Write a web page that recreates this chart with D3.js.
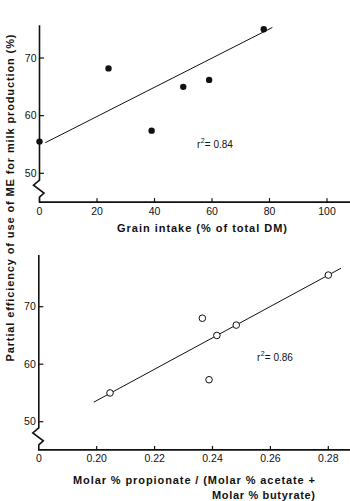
<!DOCTYPE html>
<html><head><meta charset="utf-8">
<script src="https://cdn.jsdelivr.net/npm/d3@7"></script>
<style>
html,body{margin:0;padding:0;background:#fff;}
svg{display:block;font-family:"Liberation Sans",Arial,sans-serif;}
</style></head>
<body>
<svg id="c" width="350" height="501"></svg>
<script>
// ---- data ----
const grain = [0, 24, 39, 50, 59, 78];
const effTop = [55.5, 68.2, 57.4, 65.0, 66.2, 75.0];
const ratio = [0.2046, 0.2365, 0.2388, 0.2415, 0.2482, 0.2800];
const effBot = [55.0, 68.0, 57.3, 65.0, 66.8, 75.5];
const fitTopX = [2, 81];
const fitTopY = [55.3, 75.3];
const fitBotX = [0.199, 0.2844];
const fitBotY = [53.4, 76.7];
const topXTicks = [0, 20, 40, 60, 80, 100];
const botXTicks = [0.20, 0.22, 0.24, 0.26, 0.28];
const yTicks = [50, 60, 70];
const r2Top = "0.84";
const r2Bot = "0.86";

const svg = d3.select("#c");
const ink = "#111";

// ---- scales ----
const xT = d3.scaleLinear().domain([0, 100]).range([39.5, 327]);
const yT = d3.scaleLinear().domain([50, 70]).range([173.3, 58]);
const xB = d3.scaleLinear().domain([0.20, 0.28]).range([96.7, 328.3]);
const yB = d3.scaleLinear().domain([50, 70]).range([421.7, 306.7]);

function panel(x, y, x0, xEnd, yBottom, yTop, xTicks, xFmt, originLabel) {
  const g = svg.append("g");
  const ax = x(x0);
  const yb = y(yBottom), yt = y(yTop);
  const path = d3.path();
  path.moveTo(ax, yt);
  path.lineTo(ax, yb - 22);
  path.lineTo(ax - 6, yb - 17);
  path.lineTo(ax + 4.5, yb - 9);
  path.lineTo(ax, yb - 5);
  path.lineTo(ax, yb);
  path.lineTo(x(xEnd), yb);
  g.append("path").attr("d", path.toString()).attr("fill", "none")
    .attr("stroke", ink).attr("stroke-width", 1.6);
  yTicks.forEach(v => {
    g.append("line").attr("x1", ax).attr("x2", ax + 4.5)
      .attr("y1", y(v)).attr("y2", y(v)).attr("stroke", ink).attr("stroke-width", 1.2);
    g.append("text").attr("x", ax - 3).attr("y", y(v) + 3.6)
      .attr("text-anchor", "end").attr("font-size", 10.5).attr("fill", ink)
      .text(v);
  });
  xTicks.forEach(v => {
    g.append("line").attr("x1", x(v)).attr("x2", x(v))
      .attr("y1", yb).attr("y2", yb - 4).attr("stroke", ink).attr("stroke-width", 1.2);
    g.append("text").attr("x", x(v)).attr("y", yb + 12.5)
      .attr("text-anchor", "middle").attr("font-size", 10.5).attr("fill", ink)
      .text(xFmt(v));
  });
  if (originLabel) {
    g.append("text").attr("x", ax).attr("y", yb + 12.5)
      .attr("text-anchor", "middle").attr("font-size", 10.5).attr("fill", ink)
      .text(originLabel);
  }
  return g;
}

function r2Label(g, x, y, val) {
  const t = g.append("text").attr("x", x).attr("y", y).attr("font-size", 10).attr("fill", ink);
  t.append("tspan").text("r");
  t.append("tspan").attr("dy", -5).attr("dx", 0.3).attr("font-size", 7).text("2");
  t.append("tspan").attr("dy", 5).attr("dx", 0.3).text("= " + val);
}

// ---- top panel ----
const gT = panel(xT, yT, 0, 108, 45.0, 75.7, topXTicks, d => d3.format("d")(d), null);
gT.append("line")
  .attr("x1", xT(fitTopX[0])).attr("y1", yT(fitTopY[0]))
  .attr("x2", xT(fitTopX[1])).attr("y2", yT(fitTopY[1]))
  .attr("stroke", ink).attr("stroke-width", 1);
gT.selectAll("circle.p").data(grain.map((g, i) => [g, effTop[i]])).join("circle")
  .attr("cx", d => xT(d[0])).attr("cy", d => yT(d[1])).attr("r", 3.2).attr("fill", ink);
r2Label(gT, 197, 148, r2Top);

gT.append("text").attr("x", 202).attr("y", 232).attr("text-anchor", "middle")
  .attr("font-size", 11).attr("font-weight", "bold").attr("fill", ink)
  .attr("textLength", 170).attr("lengthAdjust", "spacing")
  .text("Grain  intake  (% of total DM)");

// ---- bottom panel ----
const gB = panel(xB, yB, 0.18, 0.288, 45.1, 79, botXTicks, d => d3.format(".2f")(d), "0");
gB.append("line")
  .attr("x1", xB(fitBotX[0])).attr("y1", yB(fitBotY[0]))
  .attr("x2", xB(fitBotX[1])).attr("y2", yB(fitBotY[1]))
  .attr("stroke", ink).attr("stroke-width", 1);
gB.selectAll("circle.p").data(ratio.map((r, i) => [r, effBot[i]])).join("circle")
  .attr("cx", d => xB(d[0])).attr("cy", d => yB(d[1])).attr("r", 3.3)
  .attr("fill", "#fff").attr("stroke", ink).attr("stroke-width", 1);
r2Label(gB, 257, 361, r2Bot);

gB.append("text").attr("x", 315).attr("y", 484).attr("text-anchor", "end")
  .attr("font-size", 11).attr("font-weight", "bold").attr("fill", ink)
  .attr("textLength", 242).attr("lengthAdjust", "spacing")
  .text("Molar %   propionate / (Molar % acetate +");
gB.append("text").attr("x", 315).attr("y", 499).attr("text-anchor", "end")
  .attr("font-size", 11).attr("font-weight", "bold").attr("fill", ink)
  .attr("textLength", 103).attr("lengthAdjust", "spacing")
  .text("Molar % butyrate)");

// ---- shared y label ----
svg.append("text").attr("transform", "translate(14,198) rotate(-90)")
  .attr("text-anchor", "middle").attr("font-size", 11).attr("font-weight", "bold")
  .attr("fill", ink).attr("textLength", 327).attr("lengthAdjust", "spacing")
  .text("Partial  efficiency  of  use  of  ME  for  milk  production  (%)");
</script>
</body></html>
